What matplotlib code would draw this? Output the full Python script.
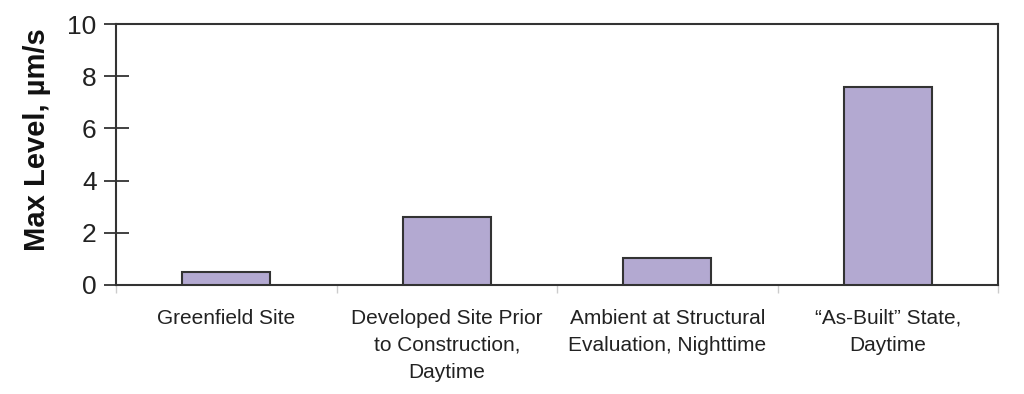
import matplotlib
matplotlib.use("Agg")
import matplotlib.pyplot as plt
import numpy as np

categories = ["Greenfield Site",
              "Developed Site Prior\nto Construction,\nDaytime",
              "Ambient at Structural\nEvaluation, Nighttime",
              "\u201cAs-Built\u201d State,\nDaytime"]
values = [0.48, 2.62, 1.02, 7.6]
yticks = [0, 2, 4, 6, 8, 10]

plt.rcParams['font.family'] = ['Liberation Sans', 'DejaVu Sans']

fig = plt.figure(figsize=(10.24, 3.94), dpi=100)
ax = fig.add_axes([116/1024, 1-285/394, (998-116)/1024, (285-24)/394])

x = np.arange(len(categories))
ax.bar(x, values, width=0.4, color='#b3a9d1', edgecolor='#333333', linewidth=1.5, zorder=3)

ax.set_xlim(-0.5, len(categories) - 0.5)
ax.set_ylim(0, 10)
ax.set_yticks(yticks)
ax.set_yticklabels([str(v) for v in yticks], fontsize=19, color='#222222')
ax.tick_params(axis='y', direction='inout', length=18, width=1.3, color='#333333', pad=5)

ax.set_xticks(x)
ax.set_xticklabels(categories, fontsize=15, color='#222222', linespacing=1.55)
ax.tick_params(axis='x', length=0, pad=17)
ax.set_xticks(np.arange(-0.5, len(categories)), minor=True)
ax.tick_params(axis='x', which='minor', length=6, color='#cccccc', width=1)

for s in ax.spines.values():
    s.set_color('#333333')
    s.set_linewidth(1.5)

ax.set_ylabel("Max Level, \u00b5m/s", fontsize=21, fontweight='bold', color='#111111')
ax.yaxis.set_label_coords(-0.074, 0.556)

fig.savefig("out.png", dpi=100, facecolor='white')
